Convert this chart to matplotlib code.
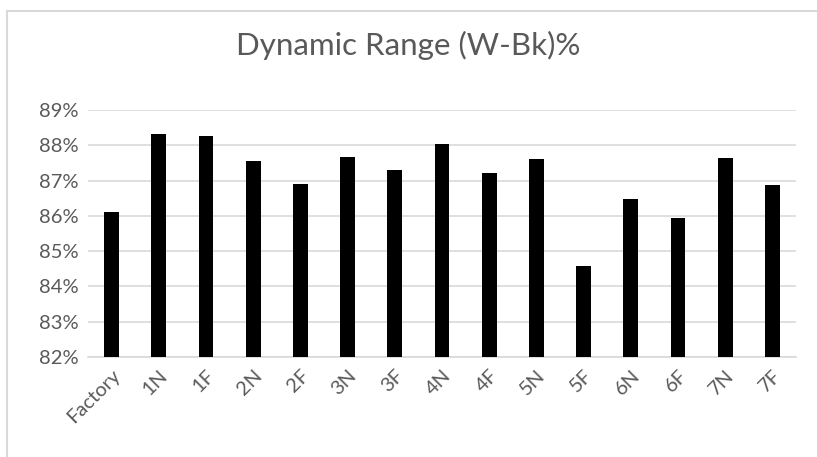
import matplotlib.pyplot as plt
import matplotlib.patches as mpatches
from matplotlib.ticker import FuncFormatter

categories = ["Factory", "1N", "1F", "2N", "2F", "3N", "3F", "4N", "4F",
              "5N", "5F", "6N", "6F", "7N", "7F"]
values = [86.10, 88.31, 88.27, 87.56, 86.89, 87.68, 87.31, 88.03, 87.22,
          87.60, 84.58, 86.47, 85.94, 87.64, 86.87]

plt.rcParams['font.family'] = ['Lato', 'DejaVu Sans']

fig = plt.figure(figsize=(8.17, 4.57), dpi=100)
ax = fig.add_axes([0.1077, 0.2188, 0.8666, 0.5405])

x = range(len(categories))
ax.bar(x, values, width=0.313, color='black', zorder=3)

ax.set_ylim(82, 89)
ax.set_xlim(-0.5, len(categories) - 0.5)
ax.set_yticks(range(82, 90))
ax.yaxis.set_major_formatter(FuncFormatter(lambda v, p: f"{v:.0f}%"))
ax.set_xticks(list(x))
ax.set_xticklabels(categories, rotation=45, ha='right', rotation_mode='anchor')

ax.grid(axis='y', color='#d9d9d9', linewidth=1.2, zorder=0)
for s in ['top', 'right', 'left']:
    ax.spines[s].set_visible(False)
ax.spines['bottom'].set_color('#d9d9d9')
ax.spines['bottom'].set_linewidth(1.2)
ax.tick_params(axis='both', length=0, colors='#595959', labelsize=14.5, pad=7)

fig.text(0.5, 0.9, "Dynamic Range (W-Bk)%", ha='center', va='center',
         fontsize=22.5, color='#595959')

# chart area border (only left and top edges visible in the crop)
fig.patches.append(mpatches.Rectangle((0.0086, -0.05), 1.1, 1.026,
                                      transform=fig.transFigure, fill=False,
                                      edgecolor='#d9d9d9', linewidth=1.5))

fig.savefig("out.png", dpi=100)
